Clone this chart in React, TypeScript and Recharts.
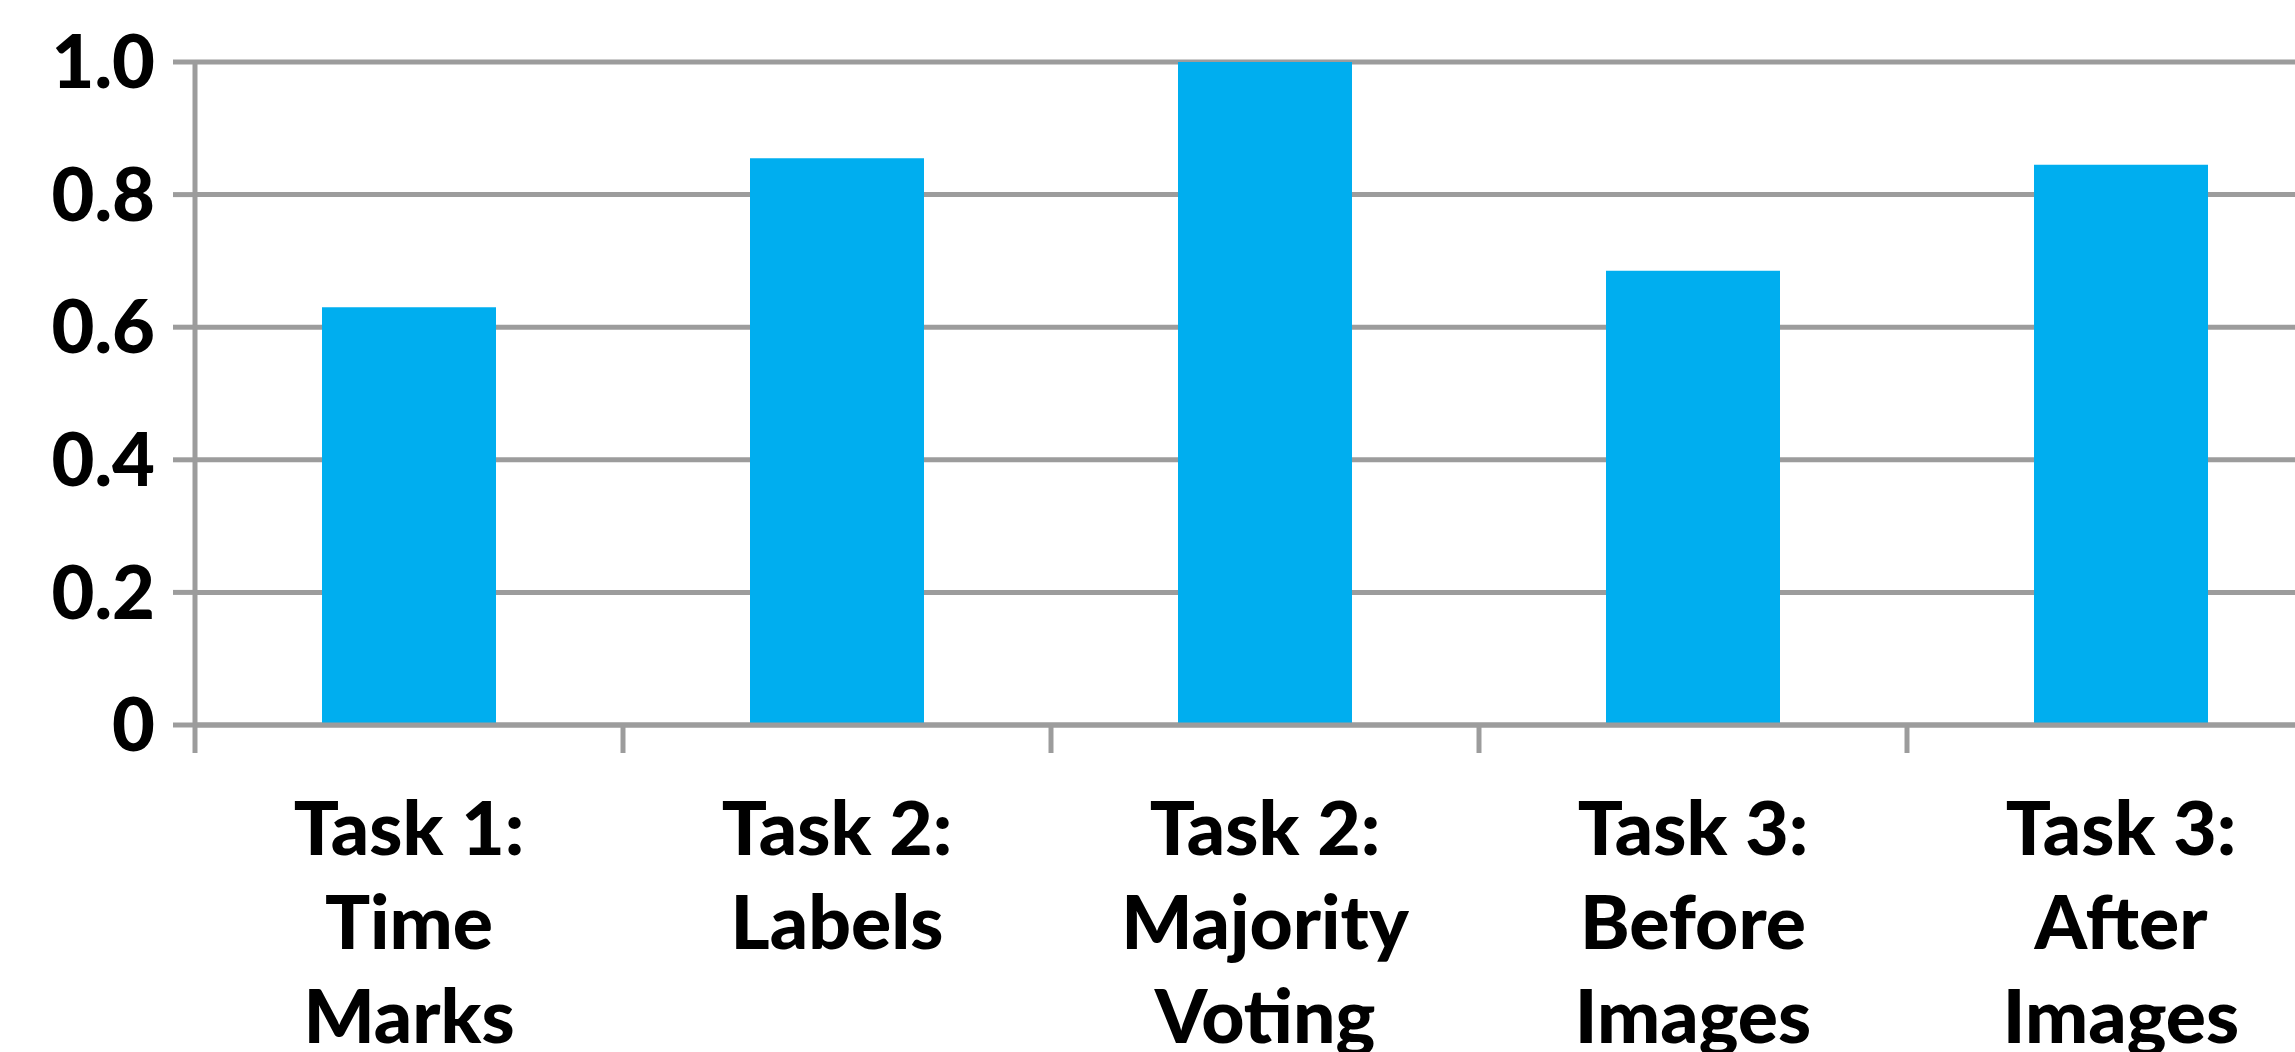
import React from "react";
import { Bar, BarChart, CartesianGrid, XAxis, YAxis } from "recharts";

// categories (line breaks mark the wrapped label lines)
const categories = [
  "Task 1:\nTime\nMarks",
  "Task 2:\nLabels",
  "Task 2:\nMajority\nVoting",
  "Task 3:\nBefore\nImages",
  "Task 3:\nAfter\nImages",
];
const scores = [0.63, 0.855, 1.0, 0.685, 0.845];
const yTicks = [0, 0.2, 0.4, 0.6, 0.8, 1.0];

const data = categories.map((name, i) => ({ name, score: scores[i] }));

const CHART_W = 2340;
const CHART_H = 1052;
const AXIS_W = 195;
const MARGIN_RIGHT = 5;
const PLOT_W = CHART_W - AXIS_W - MARGIN_RIGHT;
const GRID = "#9c9c9c";
const FONT = "Lato, 'Open Sans', sans-serif";

function CategoryTick(props: any) {
  const { x, y, payload } = props;
  const half = PLOT_W / categories.length / 2;
  const lines = String(payload.value).split("\n");
  return (
    <g>
      <line x1={x - half} x2={x - half} y1={y} y2={y + 28} stroke={GRID} strokeWidth={5} />
      <text
        x={x}
        y={y}
        textAnchor="middle"
        fill="#000"
        fontFamily={FONT}
        fontWeight={900}
        fontSize={75}
      >
        {lines.map((ln, i) => (
          <tspan key={i} x={x} y={y + 130 + i * 94}>
            {ln}
          </tspan>
        ))}
      </text>
    </g>
  );
}

export default function App() {
  return (
    <div
      style={{
        position: "fixed",
        left: 0,
        top: 0,
        width: 2295,
        height: 1052,
        overflow: "hidden",
        background: "#fff",
      }}
    >
      <BarChart
        width={CHART_W}
        height={CHART_H}
        data={data}
        margin={{ top: 62, right: MARGIN_RIGHT, bottom: 0, left: 0 }}
        barSize={174}
      >
        <CartesianGrid vertical={false} stroke={GRID} strokeWidth={5} />
        <XAxis
          dataKey="name"
          height={327}
          interval={0}
          axisLine={{ stroke: GRID, strokeWidth: 5 }}
          tickLine={false}
          tickSize={0}
          tickMargin={0}
          tick={<CategoryTick />}
        />
        <YAxis
          width={AXIS_W}
          domain={[0, 1]}
          ticks={yTicks}
          interval={0}
          tickFormatter={(v: number) => (v === 0 ? "0" : v.toFixed(1))}
          axisLine={{ stroke: GRID, strokeWidth: 5 }}
          tickLine={{ stroke: GRID, strokeWidth: 5 }}
          tickSize={22}
          tickMargin={18}
          tick={{ fill: "#000", fontFamily: FONT, fontWeight: 900, fontSize: 74 }}
        />
        <Bar dataKey="score" fill="#00aeef" isAnimationActive={false} />
      </BarChart>
    </div>
  );
}
